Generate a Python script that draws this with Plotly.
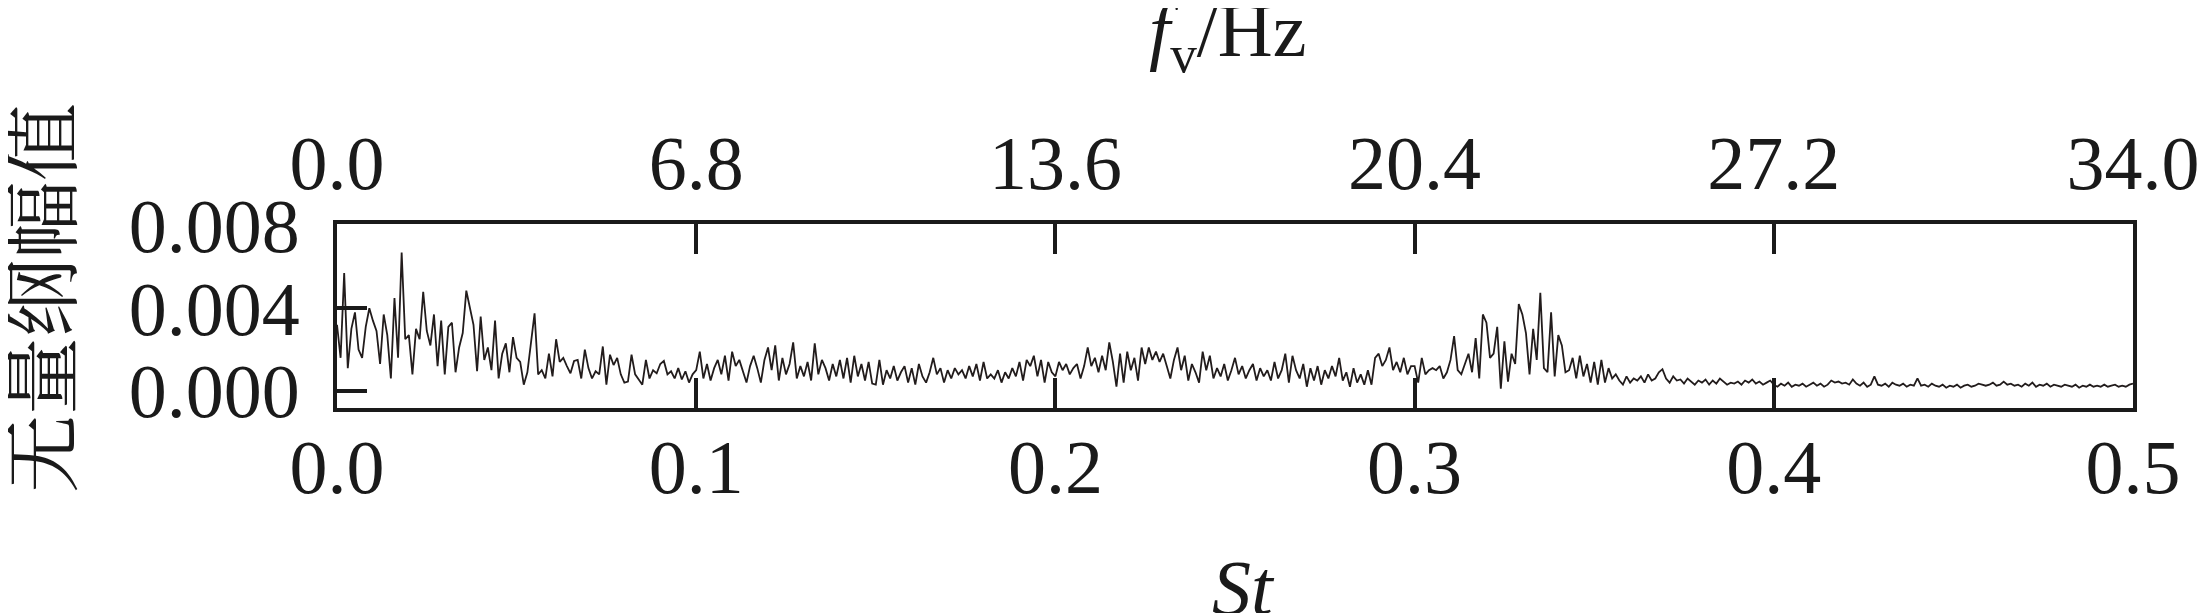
import plotly.graph_objects as go

# Amplitude (units of 1e-3), sampled every 0.001 in St, St = 0.000 ... 0.500
amp_e3 = [
    3.2, 1.6, 5.7, 1.1, 3.0, 3.8, 2.0, 1.6, 3.1, 4.0,
    3.4, 2.9, 1.3, 3.7, 2.7, 0.6, 4.5, 1.6, 6.7, 2.5,
    2.7, 0.8, 3.0, 2.5, 4.8, 2.9, 2.2, 3.7, 1.2, 3.4,
    0.8, 3.1, 3.3, 0.9, 2.1, 2.8, 4.85, 4.0, 3.2, 0.95,
    3.6, 1.5, 2.1, 1.0, 3.4, 0.6, 1.8, 2.3, 0.9, 2.6,
    1.6, 1.4, 0.3, 0.9, 2.2, 3.75, 0.8, 1.0, 0.6, 1.8,
    0.7, 2.5, 1.4, 1.6, 1.2, 0.85, 1.45, 1.5, 0.6, 2.0,
    1.1, 0.6, 0.95, 0.8, 2.15, 0.3, 1.75, 1.25, 1.6, 0.8,
    0.4, 0.45, 1.75, 0.8, 0.55, 0.3, 1.5, 0.6, 1.0, 0.85,
    1.3, 1.45, 0.8, 0.95, 0.6, 1.1, 0.55, 0.95, 0.4, 0.8,
    1.0, 1.9, 0.6, 1.3, 0.5, 1.1, 1.5, 0.8, 1.7, 0.5,
    1.9, 1.2, 1.5, 0.9, 0.4, 1.2, 1.7, 1.1, 0.4, 1.5,
    2.1, 1.0, 2.2, 0.5, 1.6, 0.8, 1.3, 2.35, 0.6, 1.2,
    0.7, 1.4, 0.5, 2.3, 0.8, 1.5, 1.1, 0.5, 1.3, 0.7,
    1.5, 0.6, 1.6, 0.4, 1.7, 0.7, 1.3, 0.5, 1.4, 0.35,
    0.3, 1.5, 0.3, 1.0, 0.6, 1.2, 0.5, 0.9, 1.2, 0.4,
    1.1, 0.3, 1.3, 0.7, 0.4, 0.9, 1.6, 0.8, 1.1, 0.4,
    1.0, 0.6, 1.1, 0.8, 1.0, 0.6, 1.2, 0.7, 1.3, 0.5,
    1.4, 0.6, 0.8, 0.6, 1.0, 0.4, 0.9, 0.6, 1.1, 0.7,
    1.4, 0.5, 1.5, 1.2, 1.7, 0.7, 1.5, 0.4, 1.4, 0.9,
    0.7, 1.4, 1.0, 1.3, 0.8, 1.1, 1.3, 0.6, 1.2, 2.1,
    1.2, 1.6, 0.9, 1.7, 1.0, 2.35, 1.4, 0.2, 1.8, 0.4,
    1.9, 1.0, 1.6, 0.5, 2.1, 1.3, 2.1, 1.5, 1.9, 1.4,
    1.8, 1.2, 0.6, 1.5, 2.1, 1.0, 1.7, 0.5, 1.3, 0.9,
    0.4, 1.9, 1.0, 1.7, 0.6, 1.1, 0.7, 1.3, 0.5, 1.0,
    1.6, 0.8, 1.2, 0.6, 1.0, 1.3, 0.5, 1.1, 0.7, 1.0,
    0.5, 1.4, 0.6, 1.0, 1.8, 0.4, 1.7, 1.0, 0.6, 1.3,
    0.2, 1.1, 0.5, 1.2, 0.3, 1.0, 0.6, 1.2, 0.7, 1.6,
    0.5, 0.9, 0.2, 1.1, 0.4, 0.8, 0.3, 1.0, 0.3, 1.6,
    1.8, 1.2, 1.5, 2.1, 1.0, 1.4, 0.9, 1.6, 0.8, 1.2,
    1.2, 0.4, 1.6, 0.8, 1.0, 1.1, 1.0, 1.2, 0.6, 0.9,
    1.5, 2.65, 1.0, 0.8, 1.3, 1.8, 0.9, 2.55, 0.6, 3.7,
    3.3, 1.6, 1.8, 3.1, 0.1, 2.4, 0.45, 1.8, 1.3, 4.2,
    3.7, 2.8, 0.8, 3.0, 1.5, 4.75, 1.1, 0.9, 3.8, 0.7,
    2.7, 2.2, 0.9, 1.0, 1.6, 0.6, 1.7, 0.7, 1.3, 0.4,
    1.4, 0.3, 1.5, 0.4, 1.1, 0.6, 0.8, 0.5, 0.3, 0.7,
    0.4, 0.6, 0.5, 0.7, 0.4, 0.8, 0.5, 0.6, 0.9, 1.05,
    0.6, 0.4, 0.7, 0.5, 0.55, 0.35, 0.6, 0.45, 0.3, 0.5,
    0.4, 0.55, 0.3, 0.5, 0.35, 0.6, 0.45, 0.3, 0.4, 0.35,
    0.45, 0.3, 0.5, 0.4, 0.55, 0.35, 0.45, 0.3, 0.4, 0.5,
    0.3, 0.2, 0.35, 0.25, 0.4, 0.2, 0.3, 0.25, 0.35, 0.2,
    0.3, 0.4, 0.25, 0.35, 0.2, 0.3, 0.5, 0.4, 0.45, 0.35,
    0.4, 0.3, 0.55, 0.35, 0.25, 0.4, 0.2, 0.3, 0.7, 0.3,
    0.25, 0.35, 0.2, 0.4, 0.3, 0.25, 0.35, 0.2, 0.3, 0.25,
    0.6, 0.25, 0.3, 0.2, 0.35, 0.25, 0.2, 0.3, 0.15, 0.25,
    0.2, 0.3, 0.15, 0.25, 0.3, 0.2, 0.25, 0.35, 0.3, 0.25,
    0.3, 0.4, 0.25, 0.3, 0.45, 0.3, 0.35, 0.25, 0.3, 0.2,
    0.35, 0.25, 0.4, 0.2, 0.3, 0.25, 0.35, 0.2, 0.3, 0.25,
    0.2, 0.3, 0.25, 0.2, 0.3, 0.15, 0.25, 0.2, 0.3, 0.2,
    0.25, 0.2, 0.3, 0.2, 0.25, 0.3, 0.2, 0.25, 0.2, 0.3,
    0.35,
]
st_step = 0.001
st = [round(i * st_step, 3) for i in range(len(amp_e3))]
amp = [v * 1e-3 for v in amp_e3]

st_ticks = [0.0, 0.1, 0.2, 0.3, 0.4, 0.5]
st_labels = ["0.0", "0.1", "0.2", "0.3", "0.4", "0.5"]
fv_ticks = [0.0, 6.8, 13.6, 20.4, 27.2, 34.0]
fv_labels = ["0.0", "6.8", "13.6", "20.4", "27.2", "34.0"]
y_ticks = [0.0, 0.004, 0.008]
y_labels = ["0.000", "0.004", "0.008"]
y_tickmarks = [0.0, 0.004]
y_range = [-0.00083, 0.00808]

serif = "Liberation Serif, Times New Roman, serif"
black = "#1a1a1a"
tick_font = dict(family=serif, size=76, color=black)

fig = go.Figure()
fig.add_trace(go.Scatter(x=st, y=amp, mode="lines",
                         line=dict(color="#221c1c", width=1.8),
                         showlegend=False, xaxis="x", yaxis="y"))
# invisible trace to activate top axis
fig.add_trace(go.Scatter(x=[fv_ticks[0], fv_ticks[-1]], y=[None, None], mode="lines",
                         showlegend=False, xaxis="x2", yaxis="y", hoverinfo="skip"))
# invisible trace to activate the tick-mark-only y axis
fig.add_trace(go.Scatter(x=[st_ticks[0], st_ticks[-1]], y=[None, None], mode="lines",
                         showlegend=False, xaxis="x", yaxis="y2", hoverinfo="skip"))

fig.update_layout(
    width=2205, height=613, autosize=False,
    margin=dict(l=329, r=80, t=216, b=213),
    paper_bgcolor="white", plot_bgcolor="white",
    xaxis=dict(range=[0, 0.5], tickvals=st_ticks, ticktext=st_labels,
               ticks="inside", ticklen=30, tickwidth=4, tickcolor=black,
               showline=True, linewidth=4, linecolor=black, mirror=False,
               showgrid=False, zeroline=False, tickfont=tick_font,
               ticklabelstandoff=-10),
    xaxis2=dict(range=[0, 34], overlaying="x", side="top",
                tickvals=fv_ticks, ticktext=fv_labels,
                ticks="inside", ticklen=30, tickwidth=4, tickcolor=black,
                showline=True, linewidth=4, linecolor=black,
                showgrid=False, zeroline=False, tickfont=tick_font,
                ticklabelstandoff=1),
    yaxis=dict(range=y_range, tickvals=y_ticks, ticktext=y_labels,
               ticks="", showline=True, linewidth=4, linecolor=black, mirror=True,
               showgrid=False, zeroline=False, tickfont=tick_font,
               ticklabelstandoff=18),
    yaxis2=dict(range=y_range, overlaying="y", side="left",
                tickvals=y_tickmarks, showticklabels=False,
                ticks="inside", ticklen=30, tickwidth=4, tickcolor=black,
                showline=False, showgrid=False, zeroline=False),
    annotations=[
        dict(text="<i>f</i><sub>v</sub>/Hz", x=0.496, y=2.02, xref="paper", yref="paper",
             xanchor="center", yanchor="middle", showarrow=False,
             font=dict(family=serif, size=76, color=black)),
        dict(text="<i>St</i>", x=0.505, y=-0.978, xref="paper", yref="paper",
             xanchor="center", yanchor="middle", showarrow=False,
             font=dict(family=serif, size=78, color=black)),
        dict(text="无量纲幅值", x=-0.167, y=0.598, xref="paper", yref="paper",
             xanchor="center", yanchor="middle", showarrow=False, textangle=-90,
             font=dict(family="Noto Serif CJK SC, Noto Sans CJK SC, sans-serif", size=78, color=black)),
    ],
)

fig.write_html("out.html")
